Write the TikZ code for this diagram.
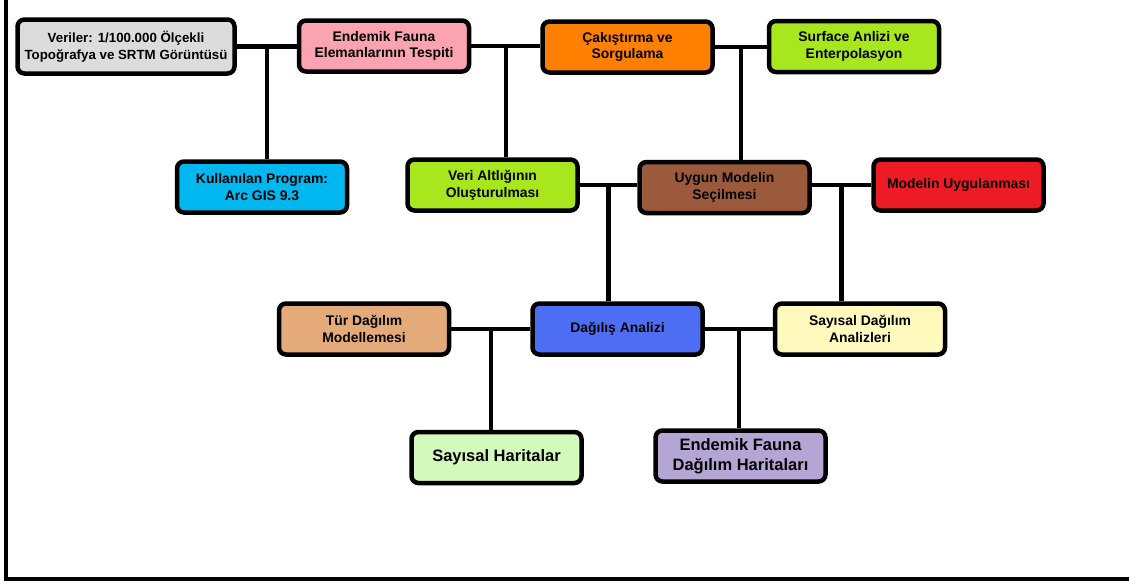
\documentclass[tikz,border=0pt]{standalone}
\usepackage{fontspec}
\setmainfont{Liberation Sans}

\definecolor{cgray}{HTML}{DCDCDC}
\definecolor{cpink}{HTML}{FBA3B0}
\definecolor{corange}{HTML}{FF7F00}
\definecolor{clime}{HTML}{A8E61D}
\definecolor{ccyan}{HTML}{00B7EF}
\definecolor{cbrown}{HTML}{9C5A3C}
\definecolor{cred}{HTML}{ED1C24}
\definecolor{ctan}{HTML}{E5AA7A}
\definecolor{cblue}{HTML}{4D6DF3}
\definecolor{cyellow}{HTML}{FFF9BD}
\definecolor{cgreen}{HTML}{D3F9BC}
\definecolor{clavender}{HTML}{B5A5D5}

\tikzset{
	box/.style={draw, line width=4.5pt, rounded corners=7pt, align=center,
		minimum width=170pt, minimum height=51pt, inner sep=2pt,
		font=\bfseries\fontsize{13.9}{16.8}\selectfont},
	bigbox/.style={box, font=\bfseries\fontsize{16.5}{20}\selectfont},
	link/.style={line width=4.5pt}
}

\begin{document}
\begin{tikzpicture}[x=1pt, y=-1pt]
	\useasboundingbox (0, 0) rectangle (1129, 582);

	% frame, left and bottom only
	\draw[line width=4pt] (6, 0) -- (6, 579) -- (1129, 579);

	% top row
	\node[box, fill=cgray, minimum width=217pt, minimum height=54pt, inner sep=1pt,
		font=\bfseries\fontsize{13.3}{16.8}\selectfont] (veriler) at (126, 46.5)
		{Veriler: 1/100.000 Ölçekli\\Topoğrafya ve SRTM Görüntüsü};
	\node[box, fill=cpink] (fauna) at (384, 46) {Endemik Fauna\\Elemanlarının Tespiti};
	\node[box, fill=corange] (cakistirma) at (627.5, 47) {Çakıştırma ve\\Sorgulama};
	\node[box, fill=clime] (surface) at (854, 46.5) {Surface Anlizi ve\\Enterpolasyon};

	% middle row
	\node[box, fill=ccyan] (program) at (262, 187) {Kullanılan Program:\\Arc GIS 9.3};
	\node[box, fill=clime] (altlik) at (492.5, 185) {Veri Altlığının\\Oluşturulması};
	\node[box, fill=cbrown] (uygun) at (724.5, 187.5) {Uygun Modelin\\Seçilmesi};
	\node[box, fill=cred] (uygulama) at (958.5, 185) {Modelin Uygulanması};

	% analysis row
	\node[box, fill=ctan] (tur) at (364, 329) {Tür Dağılım\\Modellemesi};
	\node[box, fill=cblue] (dagilis) at (617.5, 329) {Dağılış Analizi};
	\node[box, fill=cyellow] (sayisal) at (860, 329) {Sayısal Dağılım\\Analizleri};

	% outputs
	\node[bigbox, fill=cgreen] (haritalar) at (496.5, 457.5) {Sayısal Haritalar};
	\node[bigbox, fill=clavender] (dagilim) at (740.5, 456) {Endemik Fauna\\Dağılım Haritaları};

	% links, kept level, each with a drop from its middle
	\draw[link] (veriler.east) -- coordinate (m1) (veriler.east -| fauna.west);
	\draw[link] (m1) -- (m1 |- program.north);

	\draw[link] (fauna.east) -- coordinate (m2) (fauna.east -| cakistirma.west);
	\draw[link] (m2) -- (m2 |- altlik.north);

	\draw[link] (cakistirma.east -| surface.west) -- coordinate (m3) (cakistirma.east);
	\draw[link] (m3) -- (m3 |- uygun.north);

	\draw[link] (altlik.east) -- coordinate (m4) (altlik.east -| uygun.west);
	\draw[link] (m4) -- (m4 |- dagilis.north);

	\draw[link] (uygulama.west -| uygun.east) -- coordinate (m5) (uygulama.west);
	\draw[link] (m5) -- (m5 |- sayisal.north);

	\draw[link] (tur.east) -- coordinate (m6) (dagilis.west);
	\draw[link] (m6) -- (m6 |- haritalar.north);

	\draw[link] (dagilis.east) -- coordinate (m7) (sayisal.west);
	\draw[link] (m7) -- (m7 |- dagilim.north);
\end{tikzpicture}
\end{document}
